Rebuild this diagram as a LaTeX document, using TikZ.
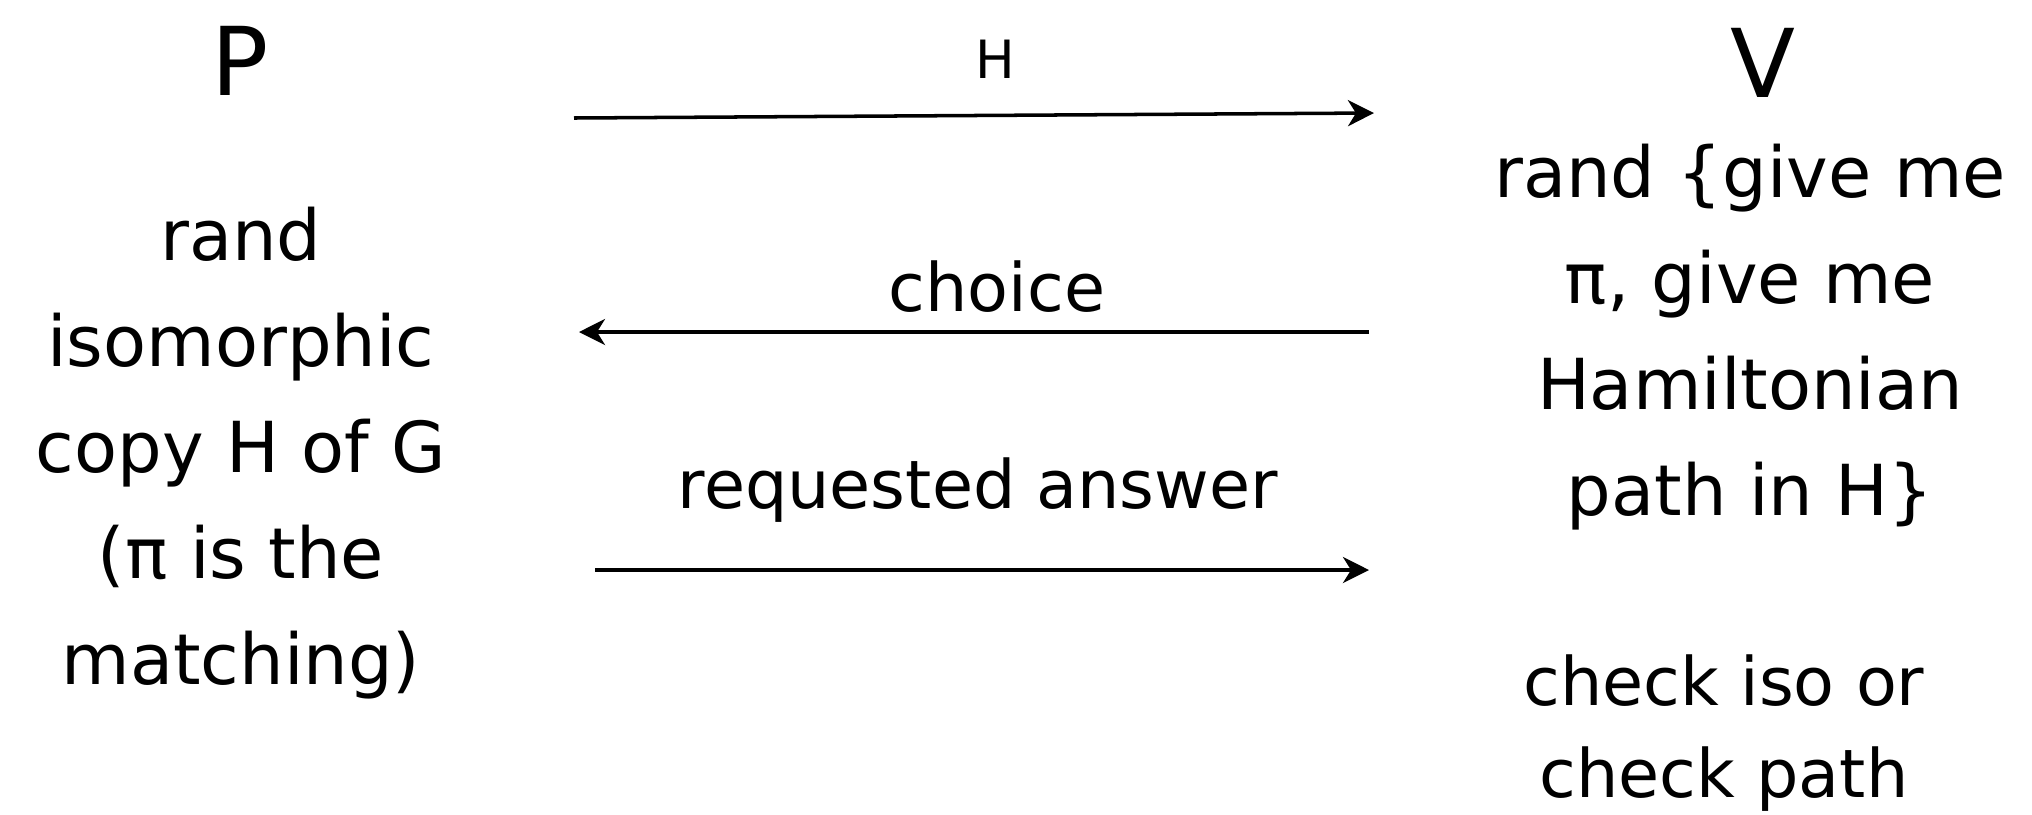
\documentclass[tikz,border=0pt]{standalone}
\usepackage{fontspec}
\setmainfont{DejaVu Sans}
\usetikzlibrary{arrows.meta}
\tikzset{
  party/.style={font=\fontsize{27}{30}\selectfont, inner sep=0pt, anchor=base},
  body/.style={font=\fontsize{20}{30.2}\selectfont, align=center, inner sep=0pt},
  note/.style={font=\fontsize{19}{26.4}\selectfont, align=center, inner sep=0pt},
  msg/.style={font=\fontsize{19}{24}\selectfont, inner sep=0pt, anchor=base},
  small/.style={font=\fontsize{15}{18}\selectfont, inner sep=0pt, anchor=base},
  flow/.style={line width=1pt, -{Stealth[length=2.6mm, width=2.6mm, inset=0.8mm]}}
}
\begin{document}
\begin{tikzpicture}[x=0.01cm, y=-0.01cm]
  \useasboundingbox (0,0) rectangle (2032,814);
  % the two parties
  \node[party] (P) at (240,95) {P};
  \node[party] (V) at (1763,97) {V};
  % prover side
  \node[body] (prover) at (241,453) {rand\\isomorphic\\copy H of G\\(π is the\\matching)};
  % verifier side
  \node[body] (verifier) at (1750,337) {rand \{give me\\π, give me\\Hamiltonian\\path in H\}};
  \node[note] (check) at (1724,733) {check iso or\\check path};
  % messages
  \coordinate (a1s) at (574,118);
  \coordinate (a1e) at (1374,113);
  \coordinate (a2s) at (1369,332);
  \coordinate (a2e) at (579,332);
  \coordinate (a3s) at (595,570);
  \coordinate (a3e) at (1369,570);
  \node[small] (lH) at (995,78) {H};
  \node[msg] (lchoice) at (997,311) {choice};
  \node[msg] (lreq) at (978,508) {requested answer};
  \draw[flow] (a1s) -- (a1e);
  \draw[flow] (a2s) -- (a2e);
  \draw[flow] (a3s) -- (a3e);
\end{tikzpicture}
\end{document}
